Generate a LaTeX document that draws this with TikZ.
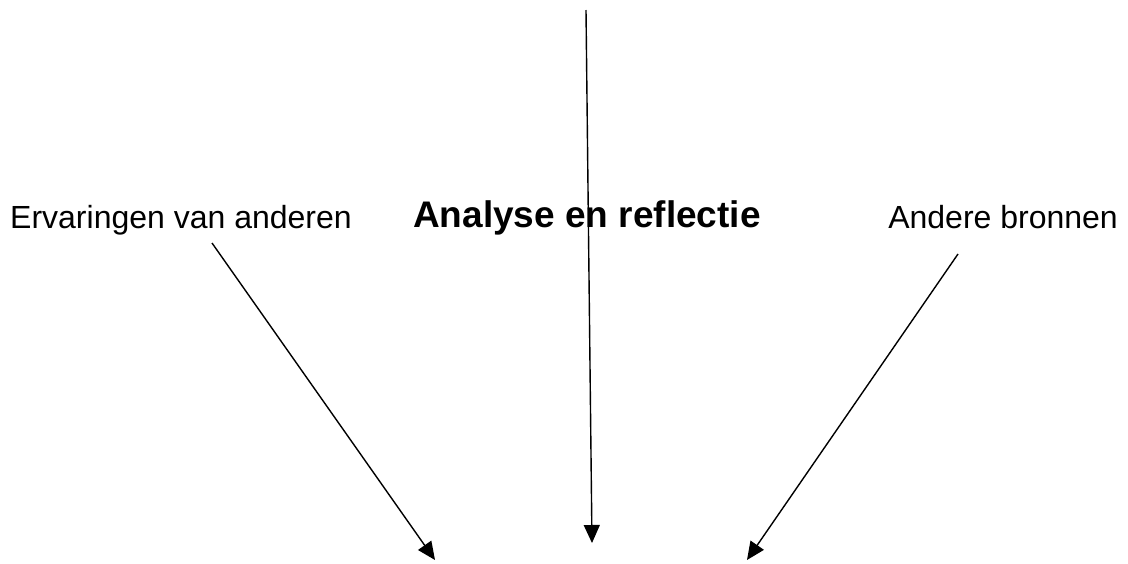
\documentclass[tikz,border=0pt]{standalone}
\usepackage{fontspec}
\setmainfont{Liberation Sans}
\usetikzlibrary{arrows.meta,positioning}

\begin{document}
\begin{tikzpicture}[x=1pt,y=-1pt,
  srclabel/.style={inner sep=0pt,font=\fontsize{32}{36}\selectfont},
  mainlabel/.style={inner sep=0pt,font=\fontsize{37}{42}\selectfont\bfseries},
  srcarrow/.style={line width=1.4pt,-{Triangle[length=18pt,width=16pt]}}
]
  \useasboundingbox (0,0) rectangle (1128,563);
  % Labels
  \node[srclabel,anchor=base west] (left) at (10,228) {Ervaringen van anderen};
  \node[mainlabel,anchor=base west] (mid) at (413,227) {Analyse en reflectie};
  \node[srclabel,anchor=base east] (right) at (1118,228) {Andere bronnen};
  % Arrow ends
  \coordinate (topstart) at (586,10);
  \coordinate (topend) at (592,543);
  \coordinate (leftstart) at (212,243);
  \coordinate (leftend) at (435,560);
  \coordinate (rightstart) at (958,254);
  \coordinate (rightend) at (747,560);
  % Arrows
  \draw[srcarrow] (topstart) -- (topend);
  \draw[srcarrow] (leftstart) -- (leftend);
  \draw[srcarrow] (rightstart) -- (rightend);
\end{tikzpicture}
\end{document}
